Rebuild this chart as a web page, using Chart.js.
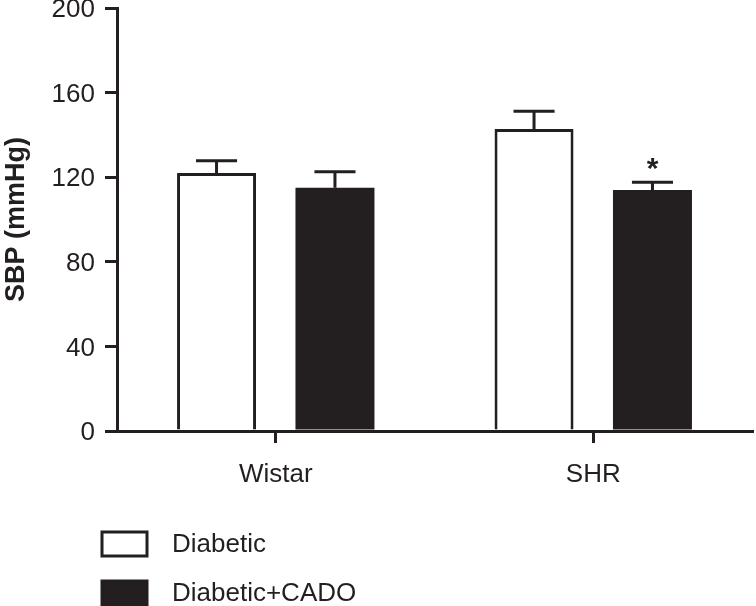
<!DOCTYPE html>
<html>
<head>
<meta charset="utf-8">
<script src="https://cdn.jsdelivr.net/npm/chart.js@4"></script>
<style>
  html, body { margin: 0; padding: 0; background: #fff; }
  #wrap { width: 756px; height: 606px; }
</style>
</head>
<body>
<div id="wrap"><canvas id="sbpChart" width="756" height="606"></canvas></div>
<script>
// data
const groups = ['Wistar', 'SHR'];
const diabetic = [122, 142.8];
const diabeticErr = [5.8, 8.4];
const cado = [115, 113.9];
const cadoErr = [7.6, 3.7];
const cadoMarks = ['', '*'];
const yTicks = [0, 40, 80, 120, 160, 200];

const INK = '#231f20';
const FONT = 'Liberation Sans, Arial, Helvetica, sans-serif';

// error bar ke atas + tanda bintang
const errorBarPlugin = {
  id: 'errorBars',
  afterDatasetsDraw(chart) {
    const ctx = chart.ctx;
    const y = chart.scales.y;
    ctx.save();
    ctx.strokeStyle = INK;
    ctx.lineWidth = 3;
    chart.data.datasets.forEach((ds, di) => {
      const meta = chart.getDatasetMeta(di);
      meta.data.forEach((bar, i) => {
        const top = y.getPixelForValue(ds.data[i] + ds.errors[i]);
        const cap = bar.width * 0.26;
        ctx.beginPath();
        ctx.moveTo(bar.x, bar.y);
        ctx.lineTo(bar.x, top);
        ctx.moveTo(bar.x - cap, top);
        ctx.lineTo(bar.x + cap, top);
        ctx.stroke();
        if (ds.marks && ds.marks[i]) {
          ctx.fillStyle = INK;
          ctx.font = 'bold 30px ' + FONT;
          ctx.textAlign = 'center';
          ctx.textBaseline = 'middle';
          ctx.fillText(ds.marks[i], bar.x, top - 13);
        }
      });
    });
    ctx.restore();
  }
};

// legenda vertikal di bawah
const legendPlugin = {
  id: 'stackLegend',
  afterDraw(chart) {
    const ctx = chart.ctx;
    ctx.save();
    chart.data.datasets.forEach((ds, i) => {
      const bx = 102, by = 532 + i * 49, bw = 45, bh = 24;
      ctx.fillStyle = ds.backgroundColor;
      ctx.fillRect(bx, by, bw, bh);
      ctx.strokeStyle = INK;
      ctx.lineWidth = 3;
      ctx.strokeRect(bx, by, bw, bh);
      ctx.fillStyle = INK;
      ctx.font = '26px ' + FONT;
      ctx.textAlign = 'left';
      ctx.textBaseline = 'middle';
      ctx.fillText(ds.label, 172, by + 13);
    });
    ctx.restore();
  }
};

new Chart(document.getElementById('sbpChart'), {
  type: 'bar',
  data: {
    labels: groups,
    datasets: [
      {
        label: 'Diabetic',
        data: diabetic,
        errors: diabeticErr,
        backgroundColor: '#ffffff',
        borderColor: INK,
        borderWidth: 3,
        borderSkipped: 'start'
      },
      {
        label: 'Diabetic+CADO',
        data: cado,
        errors: cadoErr,
        marks: cadoMarks,
        backgroundColor: INK,
        borderColor: INK,
        borderWidth: 0
      }
    ]
  },
  options: {
    responsive: false,
    animation: false,
    categoryPercentage: 0.746,
    barPercentage: 0.667,
    layout: { padding: { top: 8, right: 4, left: 0, bottom: 0 } },
    plugins: {
      legend: { display: false },
      tooltip: { enabled: false }
    },
    scales: {
      x: {
        grid: {
          offset: false,
          drawOnChartArea: false,
          drawTicks: true,
          tickLength: 12,
          color: INK,
          lineWidth: 3
        },
        border: { display: true, color: INK, width: 3 },
        ticks: {
          color: INK,
          padding: 16,
          font: { family: FONT, size: 26 }
        },
        afterFit(scale) {
          scale.height = 175;
        }
      },
      y: {
        min: 0,
        max: 200,
        afterBuildTicks(scale) {
          scale.ticks = yTicks.map(v => ({ value: v }));
        },
        grid: {
          drawOnChartArea: false,
          drawTicks: true,
          tickLength: 12,
          color: INK,
          lineWidth: 3
        },
        border: { display: true, color: INK, width: 3 },
        ticks: {
          color: INK,
          padding: 10,
          labelOffset: 2,
          font: { family: FONT, size: 26 }
        },
        title: {
          display: true,
          text: 'SBP (mmHg)',
          color: INK,
          padding: { top: 0, bottom: 0 },
          font: { family: FONT, size: 27, weight: 'bold' }
        },
        afterFit(scale) {
          scale.width = 117;
          scale.paddingTop = 0;
          scale.paddingBottom = 0;
        }
      }
    }
  },
  plugins: [errorBarPlugin, legendPlugin]
});
</script>
</body>
</html>
